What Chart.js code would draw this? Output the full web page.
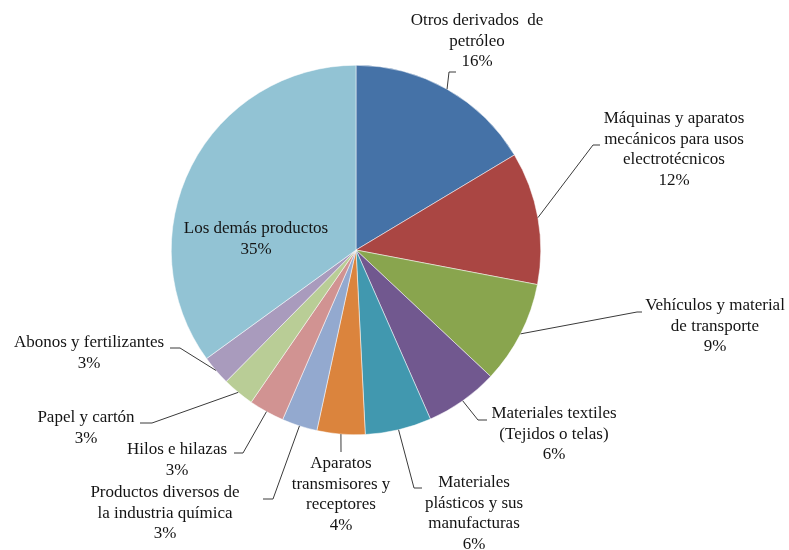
<!DOCTYPE html>
<html>
<head>
<meta charset="utf-8">
<script src="https://cdn.jsdelivr.net/npm/chart.js@4.4.1/dist/chart.umd.min.js"></script>
<style>
  html, body { margin: 0; padding: 0; background: #fff; }
  #wrap { width: 789px; height: 550px; position: relative; }
</style>
</head>
<body>
<div id="wrap"><canvas id="pieChart" width="789" height="550"></canvas></div>
<script>
// categorías y valores (porcentaje de participación)
const categorias = [
  'Otros derivados de petróleo',
  'Máquinas y aparatos mecánicos para usos electrotécnicos',
  'Vehículos y material de transporte',
  'Materiales textiles (Tejidos o telas)',
  'Materiales plásticos y sus manufacturas',
  'Aparatos transmisores y receptores',
  'Productos diversos de la industria química',
  'Hilos e hilazas',
  'Papel y cartón',
  'Abonos y fertilizantes',
  'Los demás productos'
];
const valores = [16.4, 11.6, 9.0, 6.4, 5.8, 4.2, 3.1, 3.1, 2.8, 2.6, 35.0];

// texto de cada etiqueta partido en renglones (el % se agrega abajo)
const renglones = [
  ['Otros derivados  de', 'petróleo'],
  ['Máquinas y aparatos', 'mecánicos para usos', 'electrotécnicos'],
  ['Vehículos y material', 'de transporte'],
  ['Materiales textiles', '(Tejidos o telas)'],
  ['Materiales', 'plásticos y sus', 'manufacturas'],
  ['Aparatos', 'transmisores y', 'receptores'],
  ['Productos diversos de', 'la industria química'],
  ['Hilos e hilazas'],
  ['Papel y cartón'],
  ['Abonos y fertilizantes'],
  ['Los demás productos']
];

const colores = ['#4572A7', '#AA4643', '#89A54E', '#71588F', '#4198AF', '#DB843D',
                 '#93A9CF', '#D19392', '#B9CD96', '#A99BBD', '#92C3D4'];

// posición de cada etiqueta: centro del primer renglón y quiebre de la línea guía
const posEtiquetas = [
  { x: 477, y: 21,  codo: [449, 72],  fin: [456, 72] },
  { x: 674, y: 119, codo: [593, 145], fin: [600, 145] },
  { x: 715, y: 306, codo: [637, 312], fin: [642, 312] },
  { x: 554, y: 414, codo: [478, 420], fin: [487, 420] },
  { x: 474, y: 483, codo: [414, 488], fin: [422, 488] },
  { x: 341, y: 464, codo: [341, 452], fin: [341, 452] },
  { x: 165, y: 493, codo: [273, 499], fin: [263, 499] },
  { x: 177, y: 450, codo: [243, 453], fin: [234, 453] },
  { x: 86,  y: 418, codo: [152, 423], fin: [140, 423] },
  { x: 89,  y: 343, codo: [180, 348], fin: [170, 348] },
  { x: 256, y: 229, codo: null, fin: null }
];

const fuente = '17px "Liberation Serif", "Times New Roman", serif';
const altoRenglon = 20.5;

// plugin para las etiquetas con líneas guía estilo Excel
const etiquetasPlugin = {
  id: 'etiquetas',
  afterDatasetsDraw(chart) {
    const ctx = chart.ctx;
    const meta = chart.getDatasetMeta(0);
    ctx.save();
    ctx.font = fuente;
    ctx.textAlign = 'center';
    ctx.textBaseline = 'middle';
    meta.data.forEach((arc, i) => {
      const p = posEtiquetas[i];
      if (p.codo) {
        const medio = (arc.startAngle + arc.endAngle) / 2;
        const x0 = arc.x + Math.cos(medio) * arc.outerRadius;
        const y0 = arc.y + Math.sin(medio) * arc.outerRadius;
        ctx.strokeStyle = '#3a3a3a';
        ctx.lineWidth = 1;
        ctx.beginPath();
        ctx.moveTo(x0, y0);
        ctx.lineTo(p.codo[0], p.codo[1]);
        ctx.lineTo(p.fin[0], p.fin[1]);
        ctx.stroke();
      }
      const lineas = renglones[i].concat([Math.round(valores[i]) + '%']);
      ctx.fillStyle = '#141414';
      lineas.forEach((t, k) => ctx.fillText(t, p.x, p.y + k * altoRenglon));
    });
    ctx.restore();
  }
};

new Chart(document.getElementById('pieChart'), {
  type: 'pie',
  data: {
    labels: categorias,
    datasets: [{
      data: valores,
      backgroundColor: colores,
      borderColor: '#ffffff',
      borderWidth: 0.5
    }]
  },
  options: {
    responsive: false,
    animation: false,
    layout: { padding: { left: 171, right: 248, top: 65, bottom: 115 } },
    plugins: {
      legend: { display: false },
      tooltip: { enabled: false }
    }
  },
  plugins: [etiquetasPlugin]
});
</script>
</body>
</html>
